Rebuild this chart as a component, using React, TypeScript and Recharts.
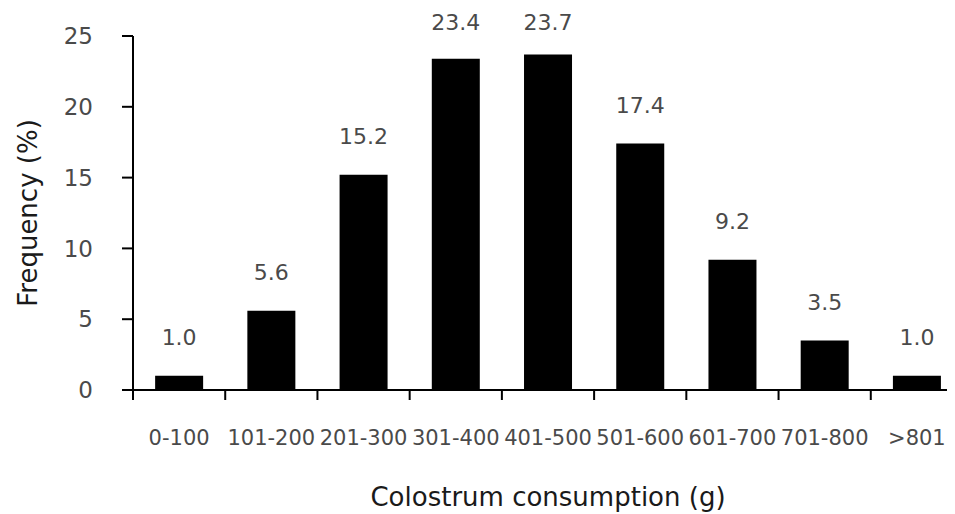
import React from 'react';
import { BarChart, Bar, XAxis, YAxis, LabelList, Label } from 'recharts';

const categories = ['0-100', '101-200', '201-300', '301-400', '401-500', '501-600', '601-700', '701-800', '>801'];
const frequency = [1.0, 5.6, 15.2, 23.4, 23.7, 17.4, 9.2, 3.5, 1.0];
const yTicks = [0, 5, 10, 15, 20, 25];

const data = categories.map((range, i) => ({ range, value: frequency[i] }));

const FONT = "'DejaVu Sans', 'Noto Sans', sans-serif";
const TICK_COLOR = '#4a4a4a';
const TITLE_COLOR = '#1a1a1a';

// x tick: label at band centre, small tick mark at the band's left edge
const BoundaryTick = (props: any) => {
    const { x, y, payload } = props;
    const half = payload && payload.offset ? payload.offset : 46;
    return (
        <g>
            <line x1={x - half} x2={x - half} y1={y} y2={y + 10} stroke='#000' strokeWidth={2} />
            <text x={x} y={y + 48} textAnchor='middle' dominantBaseline='central' fill={TICK_COLOR} fontSize={21} fontFamily={FONT}>
                {payload.value}
            </text>
        </g>
    );
};

// value above each bar, kept inside the top of the chart
const ValueLabel = (props: any) => {
    const { x, y, width, value } = props;
    const cy = Math.max(Number(y) - 38, 14);
    return (
        <text x={Number(x) + Number(width) / 2} y={cy} textAnchor='middle' dominantBaseline='central' fill={TICK_COLOR} fontSize={22} fontFamily={FONT}>
            {Number(value).toFixed(1)}
        </text>
    );
};

export default function App() {
    return (
        <div style={{ width: 947, height: 506, overflow: 'hidden' }}>
            <BarChart width={955} height={506} data={data} margin={{ top: 28, right: 0, bottom: 0, left: 0 }} barCategoryGap='24%'>
                <XAxis
                    dataKey='range'
                    height={124}
                    axisLine={{ stroke: '#000', strokeWidth: 2 }}
                    tickLine={false}
                    tickSize={0}
                    tickMargin={0}
                    tick={<BoundaryTick />}
                    interval={0}
                >
                    <Label value='Colostrum consumption (g)' position='insideBottom' offset={8} fill={TITLE_COLOR} fontSize={26} fontFamily={FONT} />
                </XAxis>
                <YAxis
                    width={125}
                    domain={[0, 25]}
                    ticks={yTicks}
                    interval={0}
                    axisLine={{ stroke: '#000', strokeWidth: 2 }}
                    tickLine={{ stroke: '#000', strokeWidth: 2 }}
                    tickSize={11}
                    tickMargin={29}
                    tick={{ fill: TICK_COLOR, fontSize: 23, fontFamily: FONT }}
                >
                    <Label value='Frequency (%)' angle={-90} position='insideLeft' offset={20} fill={TITLE_COLOR} fontSize={26} fontFamily={FONT} style={{ textAnchor: 'middle' }} />
                </YAxis>
                <Bar dataKey='value' fill='#000' isAnimationActive={false}>
                    <LabelList dataKey='value' content={<ValueLabel />} />
                </Bar>
            </BarChart>
        </div>
    );
}
